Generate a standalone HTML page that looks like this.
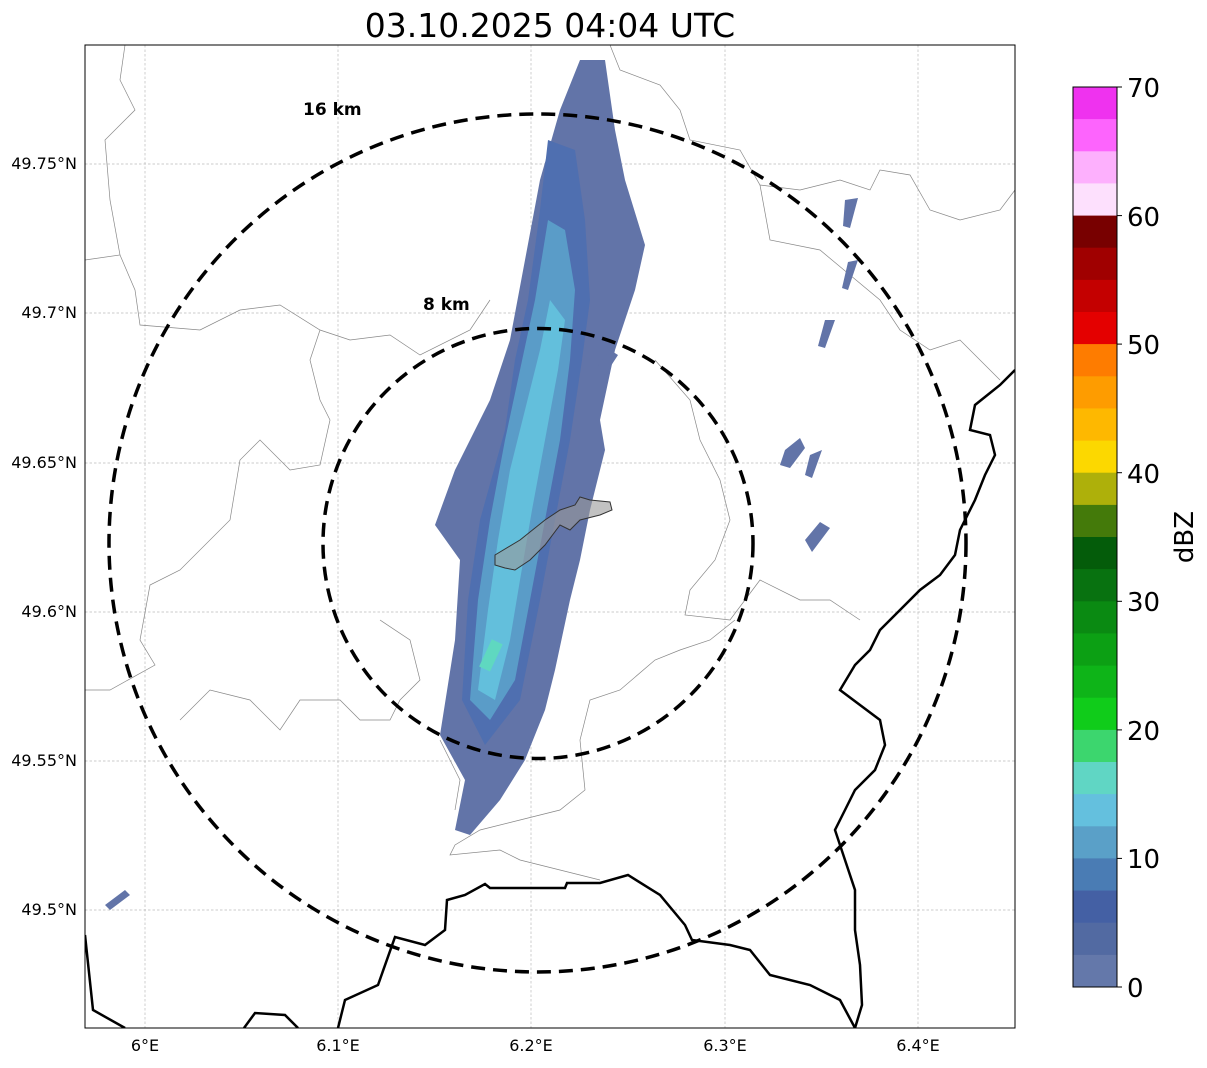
<!DOCTYPE html>
<html><head><meta charset="utf-8"><style>
body{margin:0;background:#fff;width:1207px;height:1064px;overflow:hidden;font-family:"DejaVu Sans",sans-serif}
</style></head><body>
<svg width="1207" height="1064" xmlns="http://www.w3.org/2000/svg" font-family="DejaVu Sans, sans-serif">
<text x="550" y="37" font-size="33" text-anchor="middle">03.10.2025 04:04 UTC</text>
<defs><clipPath id="c"><rect x="85" y="45" width="930" height="983"/></clipPath></defs>
<g clip-path="url(#c)">
<g stroke="#bbb" stroke-width="0.7" stroke-dasharray="2.5,2">
<line x1="145" y1="45" x2="145" y2="1028"/><line x1="338" y1="45" x2="338" y2="1028"/><line x1="531" y1="45" x2="531" y2="1028"/><line x1="725" y1="45" x2="725" y2="1028"/><line x1="918" y1="45" x2="918" y2="1028"/>
<line x1="85" y1="164" x2="1015" y2="164"/><line x1="85" y1="313" x2="1015" y2="313"/><line x1="85" y1="463" x2="1015" y2="463"/><line x1="85" y1="612" x2="1015" y2="612"/><line x1="85" y1="761" x2="1015" y2="761"/><line x1="85" y1="910" x2="1015" y2="910"/>
</g>
<g fill="none" stroke="#888" stroke-width="0.7">
<path d="M125,45 L120,80 L135,110 L105,140 L110,200 L120,255 L85,260"/>
<path d="M120,255 L135,290 L140,325 L200,330 L240,310 L280,305 L320,330 L350,340 L390,335 L420,355 L470,330 L490,300"/>
<path d="M320,330 L310,360 L320,400 L330,420 L320,465 L290,470 L260,440 L240,460 L230,520 L180,570 L150,585 L140,640 L155,665 L110,690 L85,690"/>
<path d="M610,45 L620,70 L660,85 L680,110 L690,140 L740,150 L760,185 L800,190 L840,180 L870,190 L880,170 L910,175 L930,210 L960,220 L1000,210 L1015,190"/>
<path d="M760,185 L770,240 L820,250 L850,275 L880,300 L900,330 L930,350 L960,340 L1000,380"/>
<path d="M655,360 L690,400 L700,440 L720,480 L730,520 L715,560 L690,590 L685,615 L730,620 L760,580 L800,600 L830,600 L860,620"/>
<path d="M735,620 L710,640 L680,650 L655,660 L620,690 L590,700 L580,740 L585,790 L560,810 L520,820 L480,830 L455,845 L450,855 L500,850 L520,860 L560,870 L600,880"/>
<path d="M380,620 L410,640 L420,680 L400,700 L390,720 L360,720 L340,700 L300,700 L280,730 L250,700 L210,690 L180,720"/>
<path d="M440,740 L460,780 L455,810"/>
</g>
<path d="M580,60 L560,110 L540,180 L525,260 L510,340 L490,400 L455,470 L435,525 L460,560 L455,640 L440,735 L465,780 L455,830 L470,835 L500,800 L525,760 L545,710 L555,670 L570,600 L580,560 L590,510 L605,450 L600,420 L615,350 L635,290 L645,245 L625,180 L615,130 L605,60 Z" fill="#6274a8"/>
<path d="M548,140 L540,210 L528,300 L515,360 L505,430 L480,520 L468,600 L462,700 L485,745 L520,700 L540,600 L555,520 L570,440 L582,360 L590,300 L585,220 L575,150 Z" fill="#4f6fb0"/>
<path d="M548,220 L535,300 L520,370 L505,440 L490,520 L478,600 L470,700 L490,720 L515,680 L530,600 L545,520 L560,440 L570,360 L575,290 L565,230 Z" fill="#5a9cc8"/>
<path d="M550,300 L540,350 L525,410 L510,470 L498,540 L488,610 L478,690 L495,700 L510,640 L520,580 L532,510 L545,440 L558,370 L565,320 Z" fill="#63bfdc"/>
<rect x="485" y="640" width="12" height="30" fill="#5fd8c0" transform="rotate(25 490 655)"/>
<path d="M845,200 L858,198 L850,228 L843,226 Z M848,262 L858,260 L848,290 L842,288 Z M825,320 L835,320 L825,348 L818,346 Z M785,450 L800,438 L805,448 L790,468 L780,465 Z M810,455 L822,450 L812,478 L805,475 Z M805,540 L820,522 L830,528 L812,552 Z M105,905 L125,890 L130,895 L110,910 Z M598,365 L610,350 L618,355 L605,375 Z" fill="#6274a8"/>
<path d="M495,555 L520,540 L545,520 L560,510 L575,505 L580,497 L590,500 L610,502 L612,510 L600,515 L580,520 L570,530 L560,525 L545,545 L530,560 L515,570 L505,568 L495,565 Z" fill="#999" fill-opacity="0.6" stroke="#333" stroke-width="1"/>
<g fill="none" stroke="#000" stroke-width="2.5">
<path d="M1015,370 L1000,385 L975,405 L970,430 L990,435 L995,455 L985,475 L975,500 L960,530 L955,555 L940,575 L920,590 L900,610 L880,630 L870,650 L855,665 L840,690 L860,705 L880,720 L885,745 L875,770 L855,790 L845,810 L835,830 L845,860 L855,890 L855,930 L860,965 L862,1005 L855,1028"/>
<path d="M338,1028 L345,1000 L378,985 L395,937 L425,945 L445,930 L447,900 L465,895 L485,884 L490,888 L565,888 L567,883 L600,883 L628,875 L660,895 L685,925 L692,940 L730,945 L750,950 L770,975 L810,985 L840,1000 L855,1028"/>
<path d="M244,1028 L255,1013 L285,1015 L298,1028"/>
<path d="M85,935 L93,1010 L125,1028"/>
</g>
<g fill="none" stroke="#000" stroke-width="3.5" stroke-dasharray="14,8">
<ellipse cx="537.5" cy="543" rx="428.5" ry="429"/>
<ellipse cx="538" cy="543.5" rx="215" ry="215"/>
</g>
</g>
<text x="303" y="115" font-size="17" font-weight="bold">16 km</text>
<text x="423" y="310" font-size="17" font-weight="bold">8 km</text>
<rect x="85" y="45" width="930" height="983" fill="none" stroke="#000" stroke-width="1"/>
<g font-size="16" text-anchor="middle">
<text x="145" y="1051">6°E</text><text x="338" y="1051">6.1°E</text><text x="531" y="1051">6.2°E</text><text x="725" y="1051">6.3°E</text><text x="918" y="1051">6.4°E</text>
</g>
<g font-size="16" text-anchor="end">
<text x="77" y="169">49.75°N</text><text x="77" y="318">49.7°N</text><text x="77" y="468">49.65°N</text><text x="77" y="617">49.6°N</text><text x="77" y="766">49.55°N</text><text x="77" y="915">49.5°N</text>
</g>
<g>
<rect x="1073" y="87.0" width="44" height="33" fill="#ef32ef"/>
<rect x="1073" y="119.1" width="44" height="33" fill="#fd64fd"/>
<rect x="1073" y="151.3" width="44" height="33" fill="#fdb0fd"/>
<rect x="1073" y="183.4" width="44" height="33" fill="#fde0fd"/>
<rect x="1073" y="215.6" width="44" height="33" fill="#780000"/>
<rect x="1073" y="247.7" width="44" height="33" fill="#a00000"/>
<rect x="1073" y="279.9" width="44" height="33" fill="#c40000"/>
<rect x="1073" y="312.0" width="44" height="33" fill="#e40000"/>
<rect x="1073" y="344.1" width="44" height="33" fill="#fe7c00"/>
<rect x="1073" y="376.3" width="44" height="33" fill="#fe9c00"/>
<rect x="1073" y="408.4" width="44" height="33" fill="#feb800"/>
<rect x="1073" y="440.6" width="44" height="33" fill="#fcd800"/>
<rect x="1073" y="472.7" width="44" height="33" fill="#aeb00a"/>
<rect x="1073" y="504.9" width="44" height="33" fill="#447a0a"/>
<rect x="1073" y="537.0" width="44" height="33" fill="#045c0a"/>
<rect x="1073" y="569.1" width="44" height="33" fill="#087210"/>
<rect x="1073" y="601.3" width="44" height="33" fill="#0a8a12"/>
<rect x="1073" y="633.4" width="44" height="33" fill="#0ca014"/>
<rect x="1073" y="665.6" width="44" height="33" fill="#0eb418"/>
<rect x="1073" y="697.7" width="44" height="33" fill="#10cc1a"/>
<rect x="1073" y="729.9" width="44" height="33" fill="#3cd66e"/>
<rect x="1073" y="762.0" width="44" height="33" fill="#60d6c4"/>
<rect x="1073" y="794.1" width="44" height="33" fill="#64c0de"/>
<rect x="1073" y="826.3" width="44" height="33" fill="#5aa0c8"/>
<rect x="1073" y="858.4" width="44" height="33" fill="#4a7cb4"/>
<rect x="1073" y="890.6" width="44" height="33" fill="#4460a4"/>
<rect x="1073" y="922.7" width="44" height="33" fill="#526aa2"/>
<rect x="1073" y="954.9" width="44" height="32.1" fill="#6478aa"/>
<rect x="1073" y="87" width="44" height="900" fill="none" stroke="#000" stroke-width="1"/>
<g stroke="#000"><line x1="1117" y1="87" x2="1122" y2="87"/><line x1="1117" y1="215.6" x2="1122" y2="215.6"/><line x1="1117" y1="344.1" x2="1122" y2="344.1"/><line x1="1117" y1="472.7" x2="1122" y2="472.7"/><line x1="1117" y1="601.3" x2="1122" y2="601.3"/><line x1="1117" y1="729.9" x2="1122" y2="729.9"/><line x1="1117" y1="858.4" x2="1122" y2="858.4"/><line x1="1117" y1="987" x2="1122" y2="987"/></g>
<g font-size="26"><text x="1127" y="97">70</text><text x="1127" y="226">60</text><text x="1127" y="354">50</text><text x="1127" y="483">40</text><text x="1127" y="611">30</text><text x="1127" y="740">20</text><text x="1127" y="868">10</text><text x="1127" y="997">0</text></g>
<text x="1193" y="537" font-size="26" text-anchor="middle" transform="rotate(-90 1193 537)">dBZ</text>
</g>
</svg>
</body></html>
